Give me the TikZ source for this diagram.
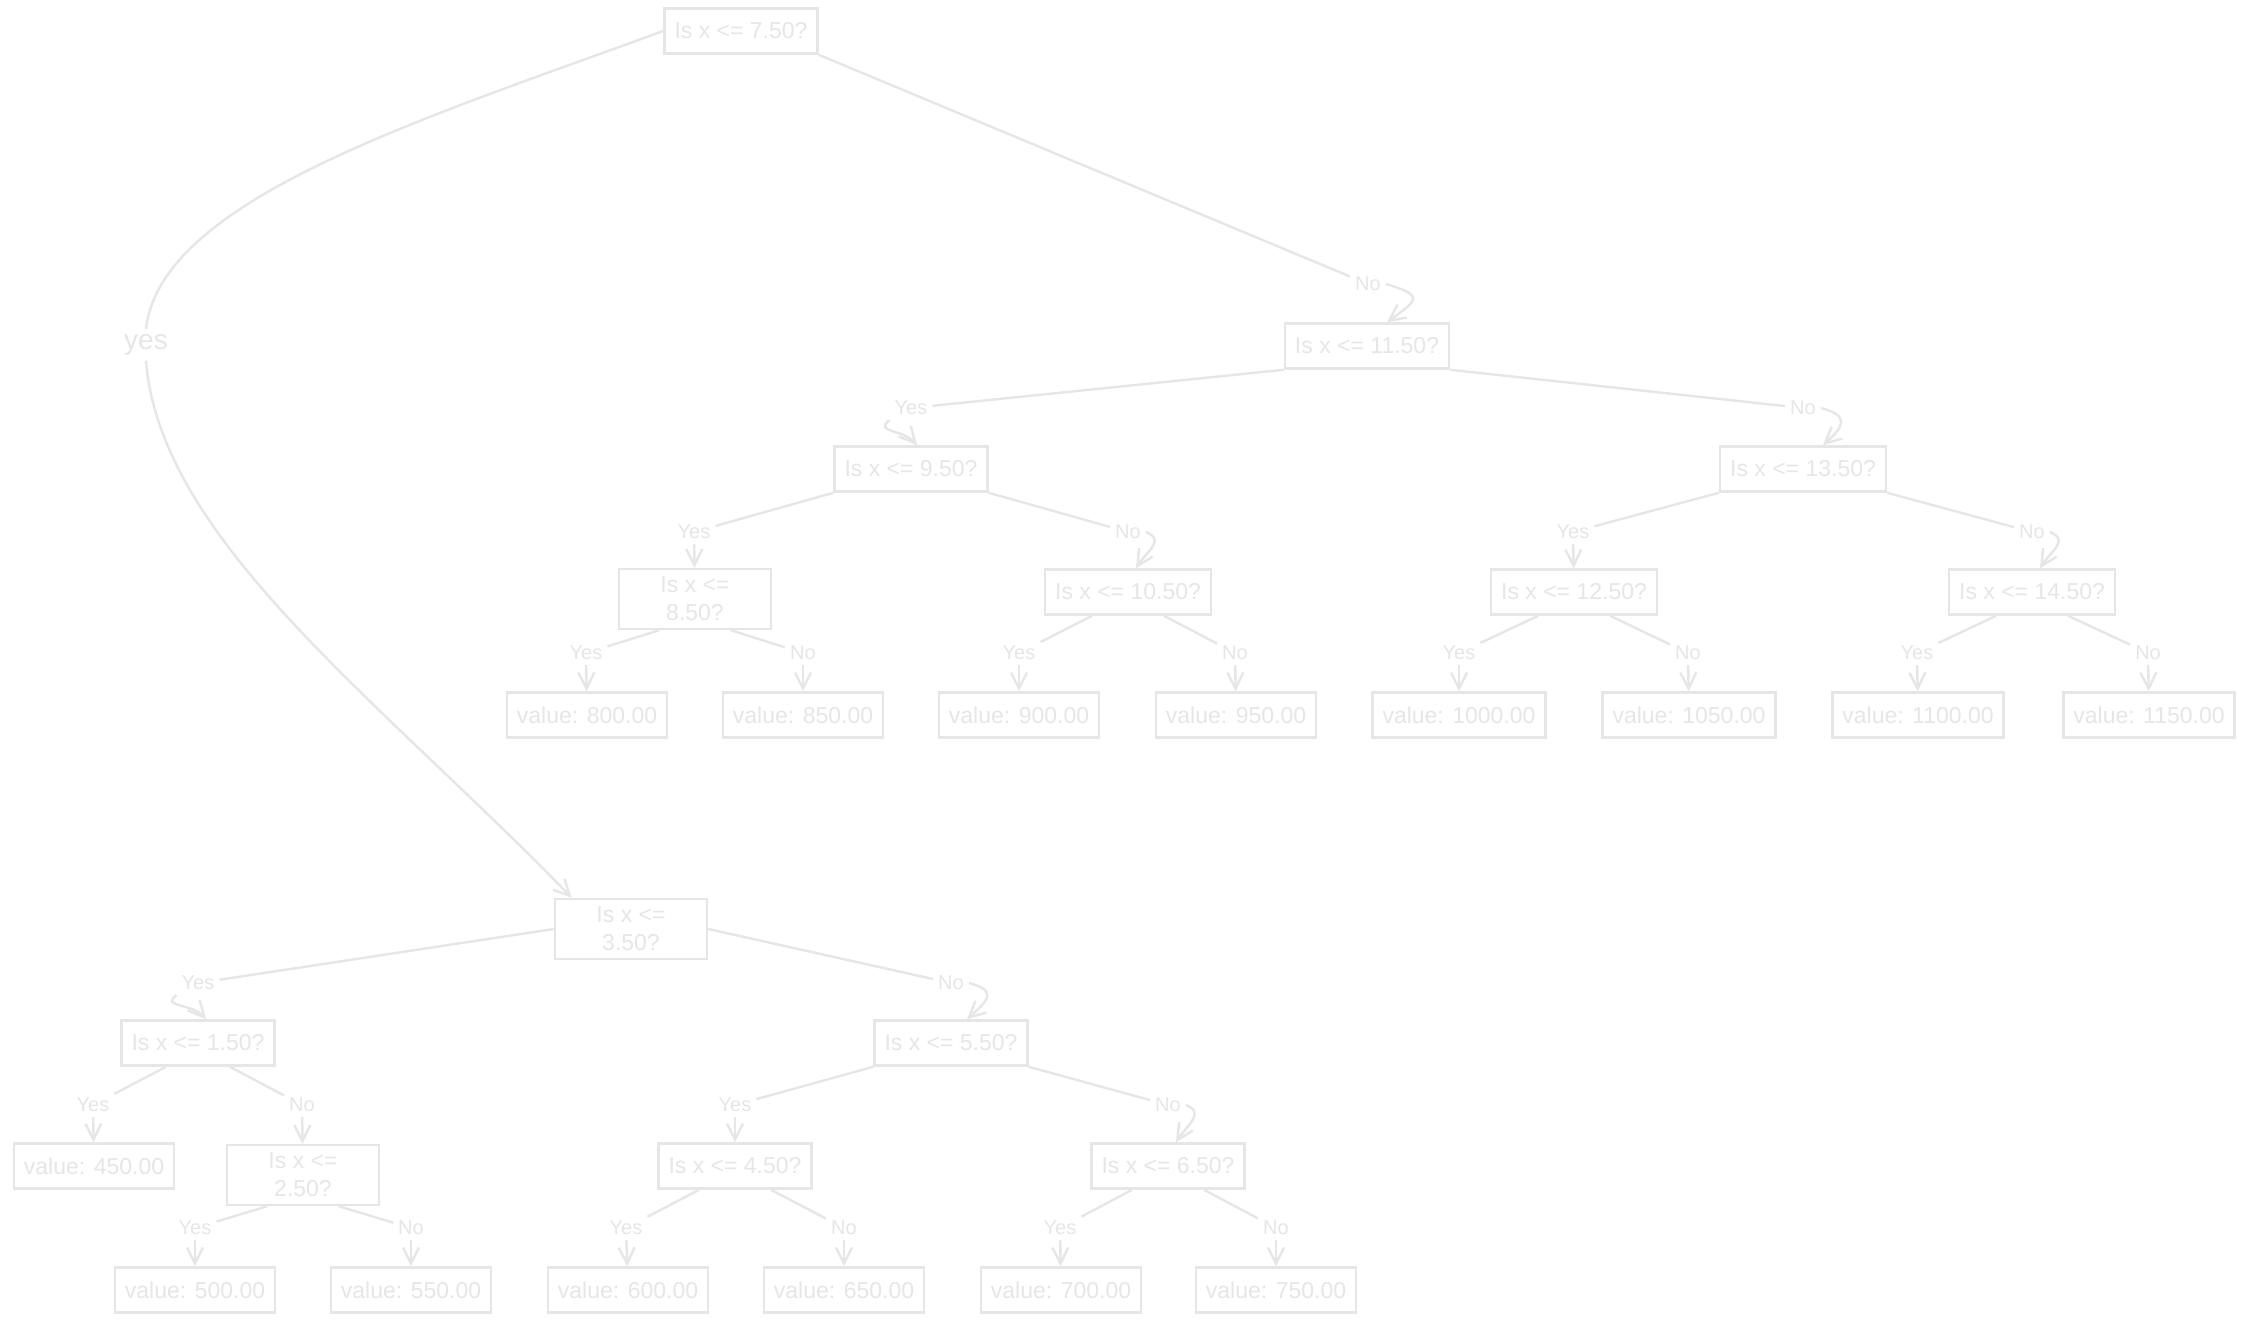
\documentclass[tikz,border=0pt]{standalone}
\usepackage{fontspec}
\setmainfont{Liberation Sans}
\usetikzlibrary{arrows.meta}

\definecolor{sketch}{RGB}{230,230,230}
\tikzset{every picture/.style={line width=1.2pt}}
\tikzset{
  box/.style={draw=sketch, text=sketch, font=\fontsize{11.5}{14}\selectfont, inner xsep=5pt, minimum height=22.5pt, line width=1.3pt},
  twobox/.style={box, align=center, minimum width=76pt, minimum height=30pt, inner ysep=2pt},
  lbl/.style={text=sketch, font=\fontsize{10}{11}\selectfont, inner sep=2pt},
  edge/.style={draw=sketch, line width=1.2pt},
  arr/.style={edge, -{Straight Barb[length=8pt,width=8pt]}},
}

\begin{document}
\begin{tikzpicture}[x=0.5pt,y=0.5pt,yscale=-1,xscale=1]
%set diagram left start at 0, and has height of 1323
\useasboundingbox (0,0) rectangle (2247,1323);
\fill [white] (0,0) rectangle (2247,1323);

%Shape: Rectangle (decisions)
\node [box] (n750) at (741,31) {Is x <= 7.50?};
\node [box] (n1150) at (1367,346) {Is x <= 11.50?};
\node [box] (n950) at (911,469) {Is x <= 9.50?};
\node [box] (n1350) at (1803,469) {Is x <= 13.50?};
\node [twobox] (n850) at (695,599) {Is x <=\\8.50?};
\node [box] (n1050) at (1128,592) {Is x <= 10.50?};
\node [box] (n1250) at (1574,592) {Is x <= 12.50?};
\node [box] (n1450) at (2032,592) {Is x <= 14.50?};
\node [twobox] (n350) at (631,929) {Is x <=\\3.50?};
\node [box] (n150) at (198,1043) {Is x <= 1.50?};
\node [box] (n550) at (951,1043) {Is x <= 5.50?};
\node [twobox] (n250) at (303,1175) {Is x <=\\2.50?};
\node [box] (n450) at (735,1166) {Is x <= 4.50?};
\node [box] (n650) at (1168,1166) {Is x <= 6.50?};

%Shape: Rectangle (leaves)
\node [box] (v800) at (587,715) {value: 800.00};
\node [box] (v850) at (803,715) {value: 850.00};
\node [box] (v900) at (1019,715) {value: 900.00};
\node [box] (v950) at (1236,715) {value: 950.00};
\node [box] (v1000) at (1459,715) {value: 1000.00};
\node [box] (v1050) at (1689,715) {value: 1050.00};
\node [box] (v1100) at (1918,715) {value: 1100.00};
\node [box] (v1150) at (2149,715) {value: 1150.00};
\node [box] (v450) at (94,1166) {value: 450.00};
\node [box] (v500) at (195,1290) {value: 500.00};
\node [box] (v550) at (411,1290) {value: 550.00};
\node [box] (v600) at (628,1290) {value: 600.00};
\node [box] (v650) at (844,1290) {value: 650.00};
\node [box] (v700) at (1061,1290) {value: 700.00};
\node [box] (v750) at (1276,1290) {value: 750.00};

% Text Node
\node [lbl, font=\fontsize{14}{16}\selectfont] (yes750) at (146,345) {yes};
\node [lbl] (no750) at (1368,284) {No};
\node [lbl] (yes1150) at (911,408) {Yes};
\node [lbl] (no1150) at (1803,408) {No};
\node [lbl] (yes950) at (694,532) {Yes};
\node [lbl] (no950) at (1128,532) {No};
\node [lbl] (yes1350) at (1573,532) {Yes};
\node [lbl] (no1350) at (2032,532) {No};
\node [lbl] (yes850) at (586,653) {Yes};
\node [lbl] (no850) at (803,653) {No};
\node [lbl] (yes1050) at (1019,653) {Yes};
\node [lbl] (no1050) at (1235,653) {No};
\node [lbl] (yes1250) at (1459,653) {Yes};
\node [lbl] (no1250) at (1688,653) {No};
\node [lbl] (yes1450) at (1917,653) {Yes};
\node [lbl] (no1450) at (2148,653) {No};
\node [lbl] (yes350) at (198,983) {Yes};
\node [lbl] (no350) at (951,983) {No};
\node [lbl] (yes150) at (93,1105) {Yes};
\node [lbl] (no150) at (302,1105) {No};
\node [lbl] (yes550) at (735,1105) {Yes};
\node [lbl] (no550) at (1168,1105) {No};
\node [lbl] (yes250) at (195,1228) {Yes};
\node [lbl] (no250) at (411,1228) {No};
\node [lbl] (yes450) at (626,1228) {Yes};
\node [lbl] (no450) at (844,1228) {No};
\node [lbl] (yes650) at (1060,1228) {Yes};
\node [lbl] (no650) at (1276,1228) {No};

%Curve Lines (root)
\draw [edge] (n750.west) .. controls (420,120) and (160,200) .. (yes750.north);
\draw [arr] (yes750.south) .. controls (160,540) and (380,700) .. ([xshift=9pt]n350.north west);
\draw [edge] (n750.south east) -- (no750);
\draw [arr] (no750.east) .. controls +(40,12) and +(30,-22) .. ([xshift=10pt]n1150.north);

%Straight Lines (x <= 11.50)
\draw [edge] (n1150.south west) -- (yes1150);
\draw [arr] (yes1150.south west) .. controls +(-16,12) and +(-14,-16) .. ([xshift=3pt]n950.north);
\draw [edge] (n1150.south east) -- (no1150);
\draw [arr] (no1150.east) .. controls +(30,8) and +(20,-18) .. ([xshift=10pt]n1350.north);

%Straight Lines (x <= 9.50)
\draw [edge] (n950.south west) -- (yes950);
\draw [arr] (yes950) -- (n850);
\draw [edge] (n950.south east) -- (no950);
\draw [arr] (no950.east) .. controls +(20,8) and +(10,-16) .. ([xshift=4pt]n1050.north);

%Straight Lines (x <= 13.50)
\draw [edge] (n1350.south west) -- (yes1350);
\draw [arr] (yes1350) -- (n1250);
\draw [edge] (n1350.south east) -- (no1350);
\draw [arr] (no1350.east) .. controls +(20,8) and +(10,-16) .. ([xshift=4pt]n1450.north);

%Straight Lines (leaves, upper row)
\draw [edge] ([xshift=-18pt]n850.south) -- (yes850);
\draw [arr] (yes850) -- (v800);
\draw [edge] ([xshift=18pt]n850.south) -- (no850);
\draw [arr] (no850) -- (v850);
\draw [edge] ([xshift=-18pt]n1050.south) -- (yes1050);
\draw [arr] (yes1050) -- (v900);
\draw [edge] ([xshift=18pt]n1050.south) -- (no1050);
\draw [arr] (no1050) -- (v950);
\draw [edge] ([xshift=-18pt]n1250.south) -- (yes1250);
\draw [arr] (yes1250) -- (v1000);
\draw [edge] ([xshift=18pt]n1250.south) -- (no1250);
\draw [arr] (no1250) -- (v1050);
\draw [edge] ([xshift=-18pt]n1450.south) -- (yes1450);
\draw [arr] (yes1450) -- (v1100);
\draw [edge] ([xshift=18pt]n1450.south) -- (no1450);
\draw [arr] (no1450) -- (v1150);

%Straight Lines (x <= 3.50)
\draw [edge] (n350.west) -- (yes350);
\draw [arr] (yes350.south west) .. controls +(-16,12) and +(-14,-16) .. ([xshift=4pt]n150.north);
\draw [edge] (n350.east) -- (no350);
\draw [arr] (no350.east) .. controls +(30,8) and +(20,-18) .. ([xshift=8pt]n550.north);

%Straight Lines (x <= 1.50, x <= 5.50)
\draw [edge] ([xshift=-16pt]n150.south) -- (yes150);
\draw [arr] (yes150) -- (v450);
\draw [edge] ([xshift=16pt]n150.south) -- (no150);
\draw [arr] (no150) -- (n250);
\draw [edge] (n550.south west) -- (yes550);
\draw [arr] (yes550) -- (n450);
\draw [edge] (n550.south east) -- (no550);
\draw [arr] (no550.east) .. controls +(20,8) and +(10,-16) .. ([xshift=4pt]n650.north);

%Straight Lines (leaves, lower row)
\draw [edge] ([xshift=-18pt]n250.south) -- (yes250);
\draw [arr] (yes250) -- (v500);
\draw [edge] ([xshift=18pt]n250.south) -- (no250);
\draw [arr] (no250) -- (v550);
\draw [edge] ([xshift=-18pt]n450.south) -- (yes450);
\draw [arr] (yes450) -- (v600);
\draw [edge] ([xshift=18pt]n450.south) -- (no450);
\draw [arr] (no450) -- (v650);
\draw [edge] ([xshift=-18pt]n650.south) -- (yes650);
\draw [arr] (yes650) -- (v700);
\draw [edge] ([xshift=18pt]n650.south) -- (no650);
\draw [arr] (no650) -- (v750);

\end{tikzpicture}
\end{document}
